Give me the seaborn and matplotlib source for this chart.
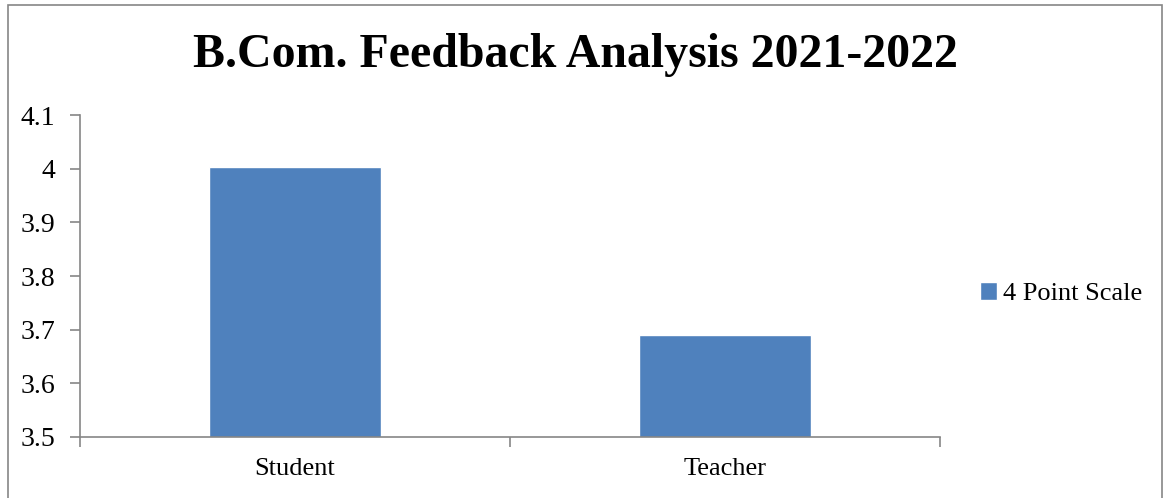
import matplotlib.pyplot as plt
import matplotlib.patches as mpatches
import pandas as pd
import seaborn as sns

# data
categories = ['Student', 'Teacher']
scores = [4.003, 3.69]
series_name = '4 Point Scale'

df = pd.DataFrame({'group': categories, 'score': scores, 'series': series_name})

sns.set_style('white')
plt.rcParams['font.family'] = ['Liberation Serif', 'DejaVu Serif']
plt.rcParams['text.color'] = 'black'
plt.rcParams['xtick.color'] = '#868686'
plt.rcParams['ytick.color'] = '#868686'
plt.rcParams['xtick.labelcolor'] = 'black'
plt.rcParams['ytick.labelcolor'] = 'black'

fig = plt.figure(figsize=(11.67, 4.98), dpi=100)
ax = fig.add_axes([0.0686, 0.1225, 0.737, 0.6465])

sns.barplot(data=df, x='group', y='score', hue='series', palette=['#4F81BD'],
            width=0.4, dodge=False, ax=ax, saturation=1)

ax.set_ylim(3.5, 4.1)
ax.set_yticks([3.5, 3.6, 3.7, 3.8, 3.9, 4.0, 4.1])
ax.set_yticklabels(['3.5', '3.6', '3.7', '3.8', '3.9', '4', '4.1'])
ax.set_xlim(-0.5, 1.5)
ax.set_xlabel('')
ax.set_ylabel('')

# ticks between categories like the office chart
ax.set_xticks([-0.5, 0.5, 1.5], minor=True)
ax.tick_params(axis='x', which='minor', bottom=True, length=7, width=1.2, color='#868686', direction='out')
ax.tick_params(axis='x', which='major', bottom=True, length=0, labelsize=19, pad=15, labelcolor='black')
ax.tick_params(axis='y', left=True, length=7, width=1.2, color='#868686', direction='out',
               labelsize=20, pad=11, labelcolor='black')

for side in ['top', 'right']:
    ax.spines[side].set_visible(False)
for side in ['left', 'bottom']:
    ax.spines[side].set_color('#868686')
    ax.spines[side].set_linewidth(1.2)

ax.legend(loc='center left', bbox_to_anchor=(0.831, 0.41), bbox_transform=fig.transFigure,
          frameon=False, fontsize=19, handlelength=0.65, handleheight=0.65,
          handletextpad=0.2, borderaxespad=0, labelcolor='black')

fig.text(0.493, 0.89, 'B.Com. Feedback Analysis 2021-2022', ha='center', va='center',
         fontsize=34.5, fontweight='bold', color='black')

# outer chart border
fig.patches.append(mpatches.Rectangle((0.007, -0.01), 0.989, 1.0, transform=fig.transFigure,
                                      fill=False, edgecolor='#868686', linewidth=1.2))

fig.savefig('out.png', dpi=100)
